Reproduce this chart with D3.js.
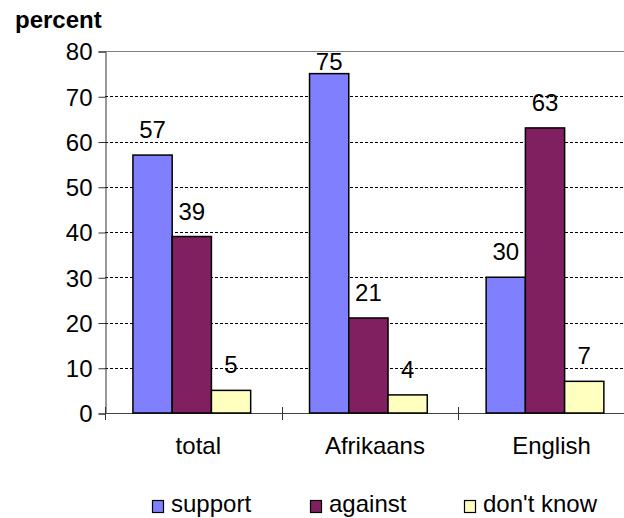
<!DOCTYPE html>
<html>
<head>
<meta charset="utf-8">
<script src="https://cdn.jsdelivr.net/npm/d3@7"></script>
<style>
  html, body { margin: 0; padding: 0; background: #fff; }
  svg { display: block; }
  text { font-family: "Liberation Sans", Arial, sans-serif; fill: #000; }
</style>
</head>
<body>
<svg id="chart" width="624" height="518"></svg>
<script>
// ---- data ----
const categories = ["total", "Afrikaans", "English"];
const seriesNames = ["support", "against", "don't know"];
const support = [57, 75, 30];
const against = [39, 21, 63];
const dontKnow = [5, 4, 7];
const yTicks = [0, 10, 20, 30, 40, 50, 60, 70, 80];
const seriesColors = ["#8080FF", "#802060", "#FFFFC0"];

const seriesValues = [support, against, dontKnow];

// ---- layout ----
const svg = d3.select("#chart");
const plotLeft = 105, plotTop = 51, plotBottom = 413;
const bandW = 176.6;
const plotRight = plotLeft + bandW * categories.length;

const x0 = d3.scaleBand().domain(categories).range([plotLeft, plotRight]).padding(0);
const y = d3.scaleLinear().domain([0, 80]).range([plotBottom, plotTop]);
const barW = x0.bandwidth() / (seriesNames.length + 1.5);
const x1 = d3.scaleBand().domain(d3.range(seriesNames.length))
  .range([0, barW * seriesNames.length]).padding(0);
const groupOffset = (x0.bandwidth() - barW * seriesNames.length) / 2 - 1.5;

// gridlines
svg.append("g").selectAll("line")
  .data(yTicks.filter(t => t > 0))
  .join("line")
  .attr("x1", plotLeft).attr("x2", 624)
  .attr("y1", d => Math.round(y(d)) + 0.5)
  .attr("y2", d => Math.round(y(d)) + 0.5)
  .attr("stroke", d => d === 80 ? "#808080" : "#000")
  .attr("stroke-width", 1)
  .attr("stroke-dasharray", d => d === 80 ? null : "3,2");

// y axis
const yAxis = d3.axisLeft(y).tickValues(yTicks).tickSize(7).tickPadding(6);
const gy = svg.append("g").attr("transform", `translate(${plotLeft + 0.5},0.5)`).call(yAxis);
gy.select(".domain").attr("stroke", "#333");
gy.selectAll(".tick line").attr("stroke", "#333");
gy.selectAll(".tick text")
  .attr("font-size", "24px")
  .attr("font-family", "Liberation Sans, Arial, sans-serif")
  .attr("fill", "#000")
  .attr("dy", "0.35em");

// x axis baseline and cross ticks
svg.append("line")
  .attr("x1", plotLeft).attr("x2", 624)
  .attr("y1", plotBottom + 0.5).attr("y2", plotBottom + 0.5)
  .attr("stroke", "#444").attr("stroke-width", 1);
const boundaries = categories.map(c => x0(c)).concat([plotRight]);
svg.append("g").selectAll("line")
  .data(boundaries)
  .join("line")
  .attr("x1", d => Math.round(d) + 0.5).attr("x2", d => Math.round(d) + 0.5)
  .attr("y1", plotBottom - 6).attr("y2", plotBottom + 7)
  .attr("stroke", "#333");

// category labels
svg.append("g").selectAll("text")
  .data(categories)
  .join("text")
  .attr("x", d => x0(d) + x0.bandwidth() / 2 + 5)
  .attr("y", 454)
  .attr("text-anchor", "middle")
  .attr("font-size", "24px")
  .text(d => d);

// bars
const groups = svg.append("g").selectAll("g")
  .data(categories)
  .join("g")
  .attr("transform", d => `translate(${x0(d) + groupOffset},0)`);

const cells = groups.selectAll("g.cell")
  .data((c, ci) => seriesValues.map((vals, si) => ({ si, v: vals[ci] })))
  .join("g").attr("class", "cell");

cells.append("rect")
  .attr("x", d => x1(d.si))
  .attr("y", d => y(d.v))
  .attr("width", x1.bandwidth())
  .attr("height", d => plotBottom - y(d.v))
  .attr("fill", d => seriesColors[d.si])
  .attr("stroke", "#000")
  .attr("stroke-width", 1.5);

cells.append("text")
  .attr("x", d => x1(d.si) + x1.bandwidth() / 2)
  .attr("y", d => Math.max(70, Math.min(390, y(d.v) - 17)))
  .attr("text-anchor", "middle")
  .attr("font-size", "24px")
  .text(d => d.v);

// axis title
svg.append("text")
  .attr("x", 15).attr("y", 28)
  .attr("font-size", "24px")
  .attr("font-weight", "bold")
  .text("percent");

// legend
const legendX = [152, 310, 464];
const leg = svg.append("g").selectAll("g")
  .data(seriesNames)
  .join("g")
  .attr("transform", (d, i) => `translate(${legendX[i]},0)`);
leg.append("rect")
  .attr("x", 0.5).attr("y", 500.5)
  .attr("width", 11).attr("height", 12)
  .attr("fill", (d, i) => seriesColors[i])
  .attr("stroke", "#000").attr("stroke-width", 1.2);
leg.append("text")
  .attr("x", 19).attr("y", 512)
  .attr("font-size", "24px")
  .text(d => d);
</script>
</body>
</html>
